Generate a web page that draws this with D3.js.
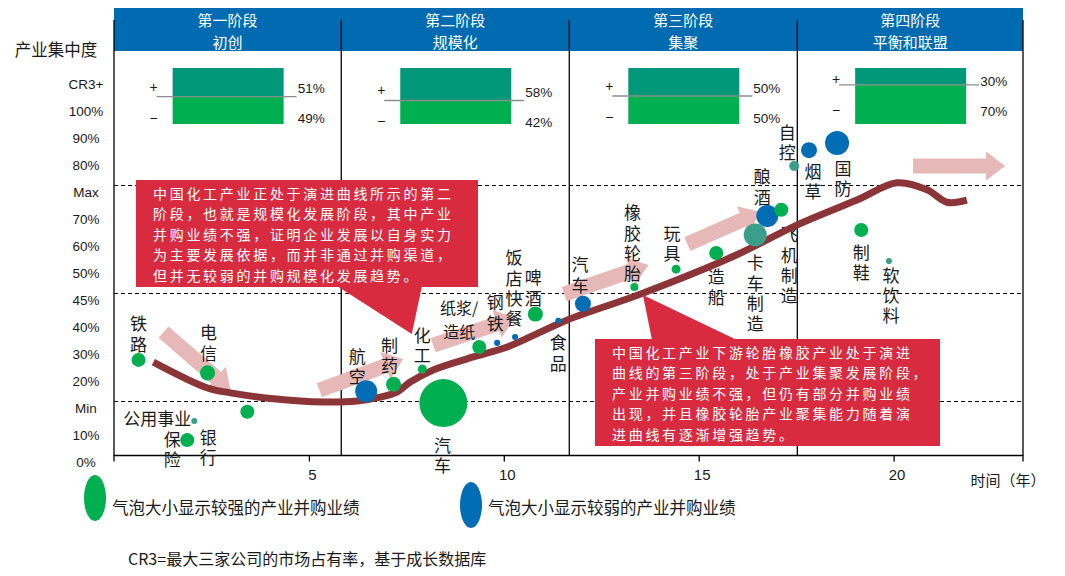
<!DOCTYPE html>
<html>
<head>
<meta charset="utf-8">
<script src="https://cdn.jsdelivr.net/npm/d3@7/dist/d3.min.js"></script>
<style>
  body { margin: 0; background: #fff; }
  text { font-family: "Noto Sans CJK SC", "Noto Sans", sans-serif; fill: #1a1a1a; }
  .num { font-family: "Liberation Sans", Arial, sans-serif; }
  .vert { writing-mode: vertical-rl; text-orientation: upright; letter-spacing: 3.3px; }
</style>
</head>
<body>
<svg id="chart" width="1065" height="576"></svg>
<script>
// ---- data ----
var yTickLabels = ['CR3+', '100%', '90%', '80%', 'Max', '70%', '60%', '50%', '45%', '40%', '30%', '20%', 'Min', '10%', '0%'];
var yTickValues = [110, 100, 90, 80, 75, 70, 60, 50, 45, 40, 30, 20, 15, 10, 0];
var xTicks = [5, 10, 15, 20];
var yGuides = [75, 45, 15];

var stageNames = ['第一阶段', '第二阶段', '第三阶段', '第四阶段'];
var stageTitles = ['初创', '规模化', '集聚', '平衡和联盟'];
var stageEdges = [0, 5.83, 11.68, 17.53, 23.32]; // years
var stagePlus = [51, 58, 50, 30];
var stageMinus = [49, 42, 50, 70];

// name, year, CR3 %, bubble size, kind
var bubbles = [
  ['铁路', 0.63, 25.4, 8.5, 'strong'],
  ['电信', 2.40, 20.6, 9.8, 'strong'],
  ['', 3.42, 13.1, 8.5, 'strong'],
  ['公用事业', 2.06, 11.4, 1.6, 'mid'],
  ['保险', 1.88, 5.7, 8.5, 'strong'],
  ['航空', 6.47, 16.9, 21, 'weak'],
  ['制药', 7.17, 18.2, 9.8, 'strong'],
  ['汽车', 8.45, 14.7, 100, 'strong'],
  ['化工', 7.91, 22.0, 3.5, 'strong'],
  ['纸浆/造纸', 9.37, 30.2, 8.5, 'strong'],
  ['钢铁', 9.83, 31.7, 1.6, 'weak'],
  ['饭店快餐', 10.29, 33.9, 1.6, 'weak'],
  ['啤酒', 10.81, 41.2, 10, 'strong'],
  ['食品', 11.40, 39.9, 1.6, 'weak'],
  ['汽车', 12.03, 43.1, 11.1, 'weak'],
  ['橡胶轮胎', 13.35, 46.2, 2.8, 'strong'],
  ['玩具', 14.42, 49.5, 3.5, 'strong'],
  ['造船', 15.45, 55.0, 8.5, 'strong'],
  ['卡车制造', 16.45, 61.7, 23, 'mid'],
  ['酿酒', 16.76, 68.7, 21, 'weak'],
  ['飞机制造', 17.12, 70.5, 8.5, 'strong'],
  ['自控', 17.45, 78.6, 4.3, 'mid'],
  ['烟草', 17.83, 83.1, 11.1, 'weak'],
  ['国防', 18.55, 85.7, 25, 'weak'],
  ['制鞋', 19.17, 63.5, 8.5, 'strong'],
  ['软饮料', 19.88, 52.0, 1.6, 'mid']
];

// evolution curve: year, CR3 %
var curve = [
  [1.01, 24.6], [2.40, 17.5], [2.99, 16.6], [4.09, 15.5], [5.37, 14.9],
  [6.24, 15.1], [6.83, 15.8], [7.27, 16.8], [7.60, 18.6], [8.19, 21.7],
  [9.22, 26.5], [10.09, 30.2], [10.94, 35.7], [11.63, 40.1], [13.58, 45.1],
  [15.88, 53.7], [17.53, 65.4], [19.06, 72.3],
  [20.09, 75.5], [20.86, 74.2], [21.37, 71.9], [21.88, 72.3]
];

// trend arrows: from [year, %] to [year, %]
var arrows = [
  [[1.27, 35.7], [2.99, 17.1]],
  [[5.27, 17.1], [7.42, 25.7]],
  [[8.19, 30.9], [10.29, 40.5]],
  [[11.55, 44.9], [13.71, 50.6]],
  [[14.71, 58.3], [16.58, 70.1]],
  [[20.5, 78.6], [22.86, 78.6]]
];

var note1 = [
  '中国化工产业正处于演进曲线所示的第二',
  '阶段，也就是规模化发展阶段，其中产业',
  '并购业绩不强，证明企业发展以自身实力',
  '为主要发展依据，而并非通过并购渠道，',
  '但并无较弱的并购规模化发展趋势。'
];
var note2 = [
  '中国化工产业下游轮胎橡胶产业处于演进',
  '曲线的第三阶段，处于产业集聚发展阶段，',
  '产业并购业绩不强，但仍有部分并购业绩',
  '出现，并且橡胶轮胎产业聚集能力随着演',
  '进曲线有逐渐增强趋势。'
];
var legendItems = ['气泡大小显示较强的产业并购业绩', '气泡大小显示较弱的产业并购业绩'];
var footnote = 'CR3=最大三家公司的市场占有率，基于成长数据库';

// ---- layout ----
var colors = { strong: '#00b050', weak: '#006db5', mid: '#3a9e8a' };
// label offsets from bubble centre (px), parallel to bubbles
var labelLayout = [
  [0, -36, 'v'], [1, -40, 'v'], null, [-37, -3, 'h'], [-15, -1, 'v'],
  [-9, -35, 'v'], [-4, -39, 'v'], [-1, 42, 'v'], [0, -34, 'v'], [-20, -39, 'h2'],
  [-2, -40, 'v'], [-1, -79, 'v'], [-2, -36, 'v'], [0, 22, 'v'], [-3, -39, 'v'],
  [-2, -74, 'v'], [-4, -36, 'v'], [0, 24, 'v'], [0, 28, 'v'], [-5, -39, 'v'],
  [8, 25, 'v'], [-7, -34, 'v'], [4, 21, 'v'], [6, 25, 'v'], [0, 22, 'v'], [2, 14, 'v']
];
var extraLabels = [['银行', 4, 21, -3]]; // text, bubble index, dx, dy

var svg = d3.select('#chart');
var plotTop = 20;

var x = d3.scaleLinear().domain([0, 23.32]).range([114, 1023]);
var ladder = d3.scalePoint().domain(yTickLabels).range([84, 462]);
var y = d3.scaleLinear()
  .domain(yTickValues)
  .range(yTickLabels.map(function (l) { return ladder(l) - 6.5; }));
var r = d3.scaleSqrt().domain([0, 100]).range([0, 24]);
var baseY = y(0);

// header band
svg.append('rect')
  .attr('x', x(0)).attr('y', 8)
  .attr('width', x(stageEdges[4]) - x(0)).attr('height', 43)
  .attr('fill', '#006bb0');

stageNames.forEach(function (name, i) {
  var cx = (x(stageEdges[i]) + x(stageEdges[i + 1])) / 2;
  svg.append('text').attr('x', cx).attr('y', 19.6).attr('text-anchor', 'middle')
    .attr('dominant-baseline', 'central').style('font-size', '15px').style('fill', '#fff').text(name);
  svg.append('text').attr('x', cx).attr('y', 41.4).attr('text-anchor', 'middle')
    .attr('dominant-baseline', 'central').style('font-size', '15px').style('fill', '#fff').text(stageTitles[i]);

  // +/- share boxes
  var h = d3.scaleLinear().domain([0, 100]).range([68, 124]);
  var bx = cx - 55, bw = 111;
  var split = h(stagePlus[i]);
  svg.append('rect').attr('x', bx).attr('y', h(0)).attr('width', bw).attr('height', split - h(0)).attr('fill', '#009879');
  svg.append('rect').attr('x', bx).attr('y', split).attr('width', bw).attr('height', h(100) - split).attr('fill', '#00b050');
  svg.append('line').attr('x1', bx - 16).attr('x2', bx + bw + 13).attr('y1', split).attr('y2', split)
    .attr('stroke', '#8c8c8c').attr('stroke-width', 1.3);
  var topY = Math.max(split - 8, 81);
  svg.append('text').attr('class', 'num').attr('x', bx - 19).attr('y', topY - 2).attr('text-anchor', 'middle')
    .attr('dominant-baseline', 'central').style('font-size', '14px').text('+');
  svg.append('text').attr('class', 'num').attr('x', bx - 19).attr('y', topY + 29).attr('text-anchor', 'middle')
    .attr('dominant-baseline', 'central').style('font-size', '14px').text('−');
  svg.append('text').attr('class', 'num').attr('x', bx + bw + 14).attr('y', topY)
    .attr('dominant-baseline', 'central').style('font-size', '13.5px').text(stagePlus[i] + '%');
  svg.append('text').attr('class', 'num').attr('x', bx + bw + 14).attr('y', topY + 30)
    .attr('dominant-baseline', 'central').style('font-size', '13.5px').text(stageMinus[i] + '%');
});

// stage frame lines
svg.selectAll('.stageLine').data(stageEdges).enter().append('line')
  .attr('class', 'stageLine')
  .attr('x1', function (d) { return x(d); }).attr('x2', function (d) { return x(d); })
  .attr('y1', plotTop).attr('y2', baseY)
  .attr('stroke', '#000').attr('stroke-width', 1.3);

// guide lines
svg.selectAll('.guide').data(yGuides).enter().append('line')
  .attr('x1', x(0)).attr('x2', x(stageEdges[4]))
  .attr('y1', function (d) { return y(d); }).attr('y2', function (d) { return y(d); })
  .attr('stroke', '#000').attr('stroke-width', 1).attr('stroke-dasharray', '4,3');

// y labels
svg.append('text').attr('x', 56).attr('y', 49).attr('text-anchor', 'middle')
  .attr('dominant-baseline', 'central').style('font-size', '16.5px').text('产业集中度');
svg.selectAll('.ylab').data(yTickLabels).enter().append('text')
  .attr('class', 'num').attr('x', 86).attr('y', function (d) { return ladder(d); })
  .attr('text-anchor', 'middle').attr('dominant-baseline', 'central')
  .style('font-size', '13.5px').text(function (d) { return d; });

// x axis
var xAxis = d3.axisBottom(x).tickValues(xTicks).tickSize(6).tickPadding(8).tickFormat(d3.format('d'));
var gx = svg.append('g').attr('transform', 'translate(0,' + baseY + ')').call(xAxis);
gx.select('.domain').attr('d', 'M' + x(0) + ',6V0H' + x(stageEdges[4]) + 'V6').attr('stroke-width', 1.3);
gx.selectAll('.tick line').attr('stroke-width', 1.3);
gx.selectAll('.tick text').attr('class', 'num').attr('dx', 3)
  .style('font-size', '15px').style('font-family', '"Liberation Sans", Arial, sans-serif').attr('fill', '#1a1a1a');
svg.append('text').attr('x', 1008).attr('y', 479).attr('text-anchor', 'middle')
  .attr('dominant-baseline', 'central').style('font-size', '15px').text('时间（年）');

// trend arrows
function arrowPath(p0, p1, sw, hw, hl) {
  var dx = p1[0] - p0[0], dy = p1[1] - p0[1], len = Math.hypot(dx, dy);
  var ux = dx / len, uy = dy / len, nx = -uy, ny = ux;
  var bx = p1[0] - ux * hl, by = p1[1] - uy * hl;
  var pts = [
    [p0[0] + nx * sw / 2, p0[1] + ny * sw / 2], [bx + nx * sw / 2, by + ny * sw / 2],
    [bx + nx * hw / 2, by + ny * hw / 2], p1,
    [bx - nx * hw / 2, by - ny * hw / 2], [bx - nx * sw / 2, by - ny * sw / 2],
    [p0[0] - nx * sw / 2, p0[1] - ny * sw / 2]
  ];
  return 'M' + pts.join('L') + 'Z';
}
svg.selectAll('.arrow').data(arrows).enter().append('path')
  .attr('d', function (d) {
    return arrowPath([x(d[0][0]), y(d[0][1])], [x(d[1][0]), y(d[1][1])], 15, 29, 19);
  })
  .attr('fill', '#e6b8b7');

// bubble labels; vertical ones are one text in vertical writing mode
function drawLabel(text, px, py, dir) {
  var t = svg.append('text').style('font-size', '17px');
  if (dir === 'h') {
    t.attr('x', px).attr('y', py).attr('text-anchor', 'middle').attr('dominant-baseline', 'central').text(text);
  } else if (dir === 'h2') {
    var parts = text.split('/');
    t.style('font-size', '16px').attr('x', px).attr('y', py - 0.5)
      .attr('text-anchor', 'middle').attr('dominant-baseline', 'central').text(parts[0] + '/');
    svg.append('text').style('font-size', '16px').attr('x', px).attr('y', py + 22.8)
      .attr('text-anchor', 'middle').attr('dominant-baseline', 'central').text(parts[1]);
  } else {
    t.attr('class', 'vert').attr('x', px).attr('y', py - 8.5).text(text);
  }
}
bubbles.forEach(function (b, i) {
  var lay = labelLayout[i];
  if (!lay || !b[0]) return;
  drawLabel(b[0], x(b[1]) + lay[0], y(b[2]) + lay[1], lay[2]);
});
extraLabels.forEach(function (e) {
  var b = bubbles[e[1]];
  drawLabel(e[0], x(b[1]) + e[2], y(b[2]) + e[3], 'v');
});

// evolution curve
var line = d3.line()
  .x(function (d) { return x(d[0]); })
  .y(function (d) { return y(d[1]); })
  .curve(d3.curveCatmullRom.alpha(0.5));
svg.append('path').datum(curve).attr('d', line)
  .attr('fill', 'none').attr('stroke', '#8b3538').attr('stroke-width', 7);

// bubbles
svg.selectAll('.bubble').data(bubbles).enter().append('circle')
  .attr('cx', function (d) { return x(d[1]); })
  .attr('cy', function (d) { return y(d[2]); })
  .attr('r', function (d) { return r(d[3]); })
  .attr('fill', function (d) { return colors[d[4]]; });

// callout boxes
function callout(lines, box, tri) {
  var g = svg.append('g');
  g.append('path').attr('d', 'M' + tri.join('L') + 'Z').attr('fill', '#d92b40');
  g.append('rect').attr('x', box[0]).attr('y', box[1]).attr('width', box[2]).attr('height', box[3]).attr('fill', '#d92b40');
  lines.forEach(function (s, k) {
    g.append('text').attr('x', box[0] + 17).attr('y', box[1] + 13 + k * 20.4)
      .attr('dominant-baseline', 'central')
      .style('font-size', '14px').style('letter-spacing', '2.7px').style('fill', '#fff').text(s);
  });
}
callout(note1, [136, 180, 342, 107], [[337, 286], [422, 286], [x(7.64), y(35.0)]]);
callout(note2, [595, 339, 345, 107], [[652, 340], [737, 340], [x(13.57), y(44.7)]]);

// legend
var legendX = [95, 471];
legendItems.forEach(function (t, i) {
  svg.append('ellipse').attr('cx', legendX[i]).attr('cy', 498 + i * 7).attr('rx', 11).attr('ry', 23)
    .attr('fill', i === 0 ? colors.strong : colors.weak);
  svg.append('text').attr('x', legendX[i] + 17).attr('y', 507).attr('dominant-baseline', 'central')
    .style('font-size', '16.5px').text(t);
});
svg.append('text').attr('x', 128).attr('y', 558).attr('dominant-baseline', 'central')
  .style('font-size', '16px').text(footnote);
</script>
</body>
</html>
